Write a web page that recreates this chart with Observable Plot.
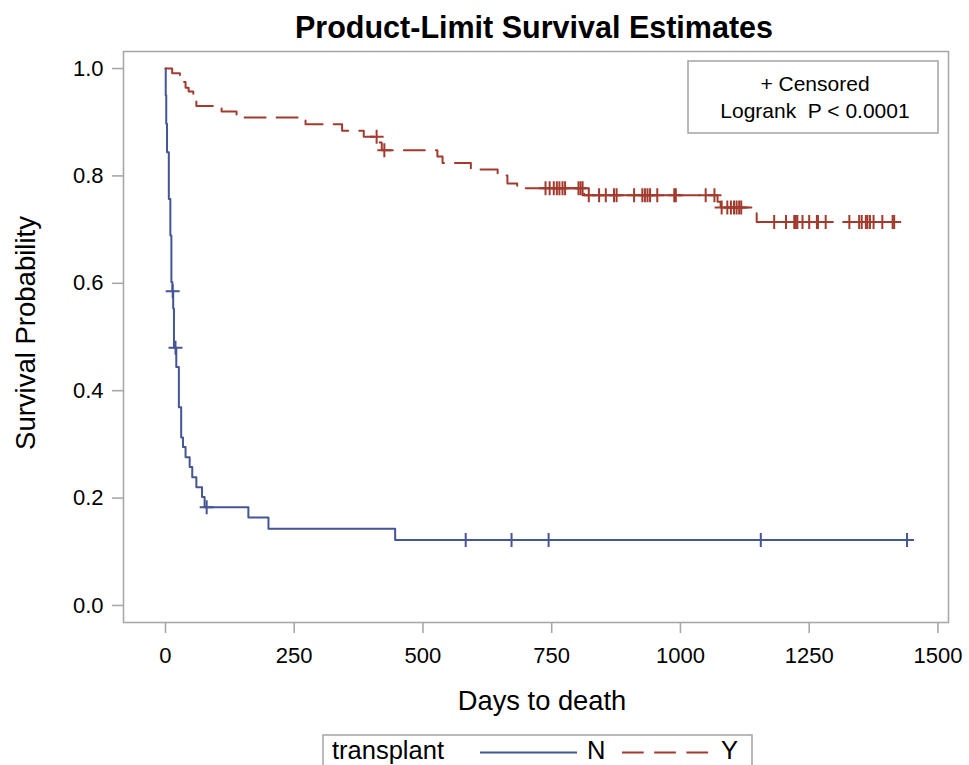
<!DOCTYPE html>
<html><head><meta charset="utf-8">
<script src="https://cdn.jsdelivr.net/npm/d3@7"></script>
<script src="https://cdn.jsdelivr.net/npm/@observablehq/plot@0.6"></script>
<style>body{margin:0;background:#fff;} svg{display:block}</style>
</head><body><div id="chart"></div>
<script>
// ---- data ----
const groups = ["N", "Y"];
const groupColors = ["#445694", "#A23A2E"];
const legendTitle = "transplant";
const titleText = "Product-Limit Survival Estimates";
const xLabel = "Days to death";
const yLabel = "Survival Probability";
const insetLines = ["+ Censored", "Logrank  P < 0.0001"];
const xTicks = [0, 250, 500, 750, 1000, 1250, 1500];
const yTicks = [0, 0.2, 0.4, 0.6, 0.8, 1.0];

// Group N (no transplant): step times and survival after each step
const daysN = [0, 0.5, 1.5, 3, 6.5, 9.5, 11.5, 13.5, 15, 16.5, 21, 26, 30.5, 34, 39, 47, 52, 60, 71, 76, 161, 200, 446, 1451];
const survN = [1.0, 0.950, 0.897, 0.844, 0.757, 0.689, 0.602, 0.585, 0.553, 0.480, 0.444, 0.369, 0.313, 0.295, 0.276, 0.258, 0.239, 0.220, 0.202, 0.183, 0.164, 0.143, 0.122, 0.122];
const censorN = [14, 19.5, 80, 583, 672, 744, 1156, 1440];

// Group Y (transplant)
const daysY = [0, 13, 28, 36, 39, 45, 54, 60, 109, 138, 272, 343, 385, 416, 420, 528, 538, 593, 645, 664, 683, 813, 1072, 1078, 1148, 1428];
const survY = [1.0, 0.991, 0.985, 0.975, 0.964, 0.957, 0.949, 0.930, 0.920, 0.909, 0.896, 0.884, 0.873, 0.862, 0.848, 0.836, 0.824, 0.812, 0.801, 0.786, 0.777, 0.764, 0.752, 0.741, 0.714, 0.714];
const censorY = [410, 425, 738, 746, 754, 760, 765, 771, 776, 802, 806, 810,
  822, 842, 855, 871, 876, 910, 926, 931, 936, 941, 955, 988, 991, 1049, 1066,
  1080, 1091, 1098, 1104, 1109, 1114, 1118,
  1182, 1205, 1221, 1224, 1227, 1237, 1250, 1265, 1267, 1282, 1328, 1347, 1352, 1360, 1363, 1368, 1375, 1392, 1412, 1415];

// ---- build tables ----
function steps(days, surv) { return days.map((d, i) => ({day: d, surv: surv[i]})); }
function levelAt(days, surv, t) { let v = surv[0]; for (let i = 0; i < days.length; i++) if (days[i] <= t) v = surv[i]; return v; }
function cens(c, days, surv) { return c.map(t => ({day: t, surv: levelAt(days, surv, t)})); }
const lineN = steps(daysN, survN), lineY = steps(daysY, survY);
const cenN = cens(censorN, daysN, survN), cenY = cens(censorY, daysY, survY);

const plusSymbol = {
  draw(ctx, size) {
    const r = Math.sqrt(size / Math.PI);
    ctx.moveTo(-r, 0); ctx.lineTo(r, 0);
    ctx.moveTo(0, -r); ctx.lineTo(0, r);
  }
};

const font = "'Liberation Sans', Arial, Helvetica, sans-serif";
const W = 969, H = 765;
const chart = Plot.plot({
  width: W, height: H,
  marginLeft: 123, marginRight: 21, marginTop: 51, marginBottom: 143,
  style: {fontFamily: font, background: "white", color: "black"},
  x: {domain: [-81.5, 1520.5]},
  y: {domain: [-0.0317, 1.0317]},
  marks: [
    Plot.frame({stroke: "#a8a8a8", strokeWidth: 1.6}),
    Plot.axisX({ticks: xTicks, tickSize: 11, tickPadding: 14, fontSize: 22, stroke: "#a8a8a8", strokeWidth: 1.6, fill: "black", label: null, tickFormat: d => String(d)}),
    Plot.axisY({ticks: yTicks, tickSize: 11, tickPadding: 9, fontSize: 22, stroke: "#a8a8a8", strokeWidth: 1.6, fill: "black", label: null, tickFormat: d3.format(".1f")}),
    Plot.line(lineN, {x: "day", y: "surv", curve: "step-after", stroke: groupColors[0], strokeWidth: 2}),
    Plot.line(lineY, {x: "day", y: "surv", curve: "step-after", stroke: groupColors[1], strokeWidth: 2, strokeDasharray: "21,11"}),
    Plot.dot(cenN, {x: "day", y: "surv", symbol: plusSymbol, r: 7, stroke: groupColors[0], strokeWidth: 2, fill: "none"}),
    Plot.dot(cenY, {x: "day", y: "surv", symbol: plusSymbol, r: 7, stroke: groupColors[1], strokeWidth: 2, fill: "none"})
  ]
});
document.getElementById("chart").appendChild(chart);

// ---- annotations ----
const svg = d3.select(chart);
const addText = (x, y, t, size, opts = {}) => {
  const el = svg.append("text").attr("x", x).attr("y", y).text(t)
    .attr("font-family", font).attr("font-size", size).attr("fill", "black")
    .attr("text-anchor", opts.anchor || "middle");
  if (opts.bold) el.attr("font-weight", "bold");
  if (opts.rotate) el.attr("transform", `rotate(-90 ${x} ${y})`);
  return el;
};
addText(534, 38, titleText, 30.5, {bold: true});
addText(542, 710, xLabel, 27.3);
addText(35, 333, yLabel, 27.5, {rotate: true});

// inset box
svg.append("rect").attr("x", 688).attr("y", 61).attr("width", 250).attr("height", 72)
  .attr("fill", "white").attr("stroke", "#a8a8a8").attr("stroke-width", 1.6);
addText(815, 91, insetLines[0], 21);
addText(815, 118, insetLines[1], 21);

// legend
svg.append("rect").attr("x", 323).attr("y", 735).attr("width", 429).attr("height", 45)
  .attr("fill", "white").attr("stroke", "#a8a8a8").attr("stroke-width", 1.6);
addText(332, 759, legendTitle, 25.5, {anchor: "start"});
svg.append("line").attr("x1", 480).attr("x2", 577).attr("y1", 752.5).attr("y2", 752.5)
  .attr("stroke", groupColors[0]).attr("stroke-width", 2);
addText(587, 759, groups[0], 25.5, {anchor: "start"});
svg.append("line").attr("x1", 622).attr("x2", 709).attr("y1", 752.5).attr("y2", 752.5)
  .attr("stroke", groupColors[1]).attr("stroke-width", 2).attr("stroke-dasharray", "21.7,10.5");
addText(721, 759, groups[1], 25.5, {anchor: "start"});
</script>
</body></html>
